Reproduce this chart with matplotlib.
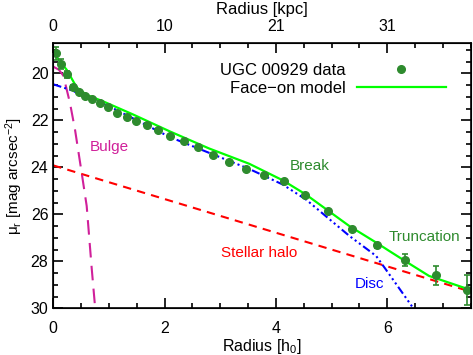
from matplotlib import pyplot as plt
from matplotlib.lines import Line2D
import numpy as np

plt.rcParams['font.family'] = ['Liberation Sans', 'DejaVu Sans']
plt.rcParams['mathtext.fontset'] = 'custom'
plt.rcParams['mathtext.rm'] = 'Liberation Sans'
plt.rcParams['mathtext.it'] = 'Liberation Sans:italic'
plt.rcParams['font.size'] = 10

# observed profile (radius in h0, surface brightness in mag/arcsec^2)
radius = [0.04, 0.14, 0.24, 0.35, 0.46, 0.57, 0.70, 0.84, 0.99, 1.14, 1.32, 1.49, 1.68, 1.88, 2.10,
          2.34, 2.60, 2.87, 3.15, 3.47, 3.79, 4.15, 4.52, 4.93, 5.37, 5.82, 6.32, 6.87, 7.43]
mu = [19.15, 19.60, 20.04, 20.57, 20.80, 20.96, 21.10, 21.25, 21.44, 21.70, 21.86, 22.02, 22.18, 22.43, 22.66,
      22.90, 23.14, 23.46, 23.79, 24.06, 24.34, 24.59, 25.19, 25.86, 26.61, 27.32, 27.94, 28.59, 29.22]
mu_err = [0.27, 0.2, 0.15, 0.06, 0.05, 0.05, 0.05, 0.05, 0.05, 0.05, 0.05, 0.05, 0.05, 0.05, 0.05,
          0.05, 0.05, 0.05, 0.05, 0.05, 0.05, 0.05, 0.05, 0.06, 0.07, 0.12, 0.24, 0.40, 0.62]

# face-on model
model_r = [0.0, 0.12, 0.24, 0.42, 0.60, 0.90, 1.43, 2.09, 2.80, 3.52, 4.12, 4.54, 5.32, 5.80, 6.03, 6.33, 6.75, 7.50]
model_mu = [19.10, 19.50, 19.85, 20.60, 20.92, 21.20, 21.75, 22.47, 23.20, 23.85, 24.55, 25.16, 26.50, 27.20, 27.55, 28.00, 28.62, 29.22]

# components
bulge_r = [0.0, 0.10, 0.18, 0.30, 0.39, 0.51, 0.60, 0.69, 0.76]
bulge_mu = [19.72, 19.85, 20.10, 21.27, 22.40, 24.24, 25.65, 28.30, 30.20]
disc_r = [0.0, 0.30, 1.00, 2.10, 3.52, 4.12, 4.54, 5.32, 5.80, 5.97, 6.50]
disc_mu = [20.47, 20.70, 21.40, 22.72, 24.07, 24.73, 25.37, 26.92, 27.77, 28.33, 30.10]
halo_r = [0.0, 7.5]
halo_mu = [23.92, 29.29]

kpc_pos = [0, 2, 4, 6]
kpc_labels = ['0', '10', '21', '31']

green = '#2E8B2E'

fig = plt.figure(figsize=(4.73, 3.55), dpi=100)
ax = fig.add_axes([0.1127, 0.1315, 0.8824, 0.7482])

ax.plot(halo_r, halo_mu, color='red', lw=1.5, dashes=(4, 3))
ax.plot(bulge_r, bulge_mu, color='#D0209A', lw=1.5, dashes=(7, 4))
ax.plot(disc_r, disc_mu, color='blue', lw=1.5, dashes=(4, 1.5, 1, 1.5, 1, 1.5, 1, 1.5))
ax.plot(model_r, model_mu, color='#00FF00', lw=1.6)
ax.errorbar(radius, mu, yerr=mu_err, fmt='o', color=green, ms=5.5, elinewidth=1.2, capsize=2.2, capthick=1.2)

ax.set_xlim(0, 7.5)
ax.set_ylim(30.0, 18.7)
ax.set_xticks([0, 2, 4, 6])
ax.set_xticks(np.arange(0, 7.6, 0.5), minor=True)
ax.set_yticks([20, 22, 24, 26, 28, 30])
ax.set_yticks(np.arange(19, 30.1, 0.5), minor=True)
ax.tick_params(which='both', direction='in', right=True, top=False, width=1.2, labelsize=11.5)
ax.tick_params(which='major', length=7)
ax.tick_params(which='minor', length=3.5)
ax.tick_params(axis='x', pad=9)
for s in ax.spines.values():
    s.set_linewidth(1.2)

ax.set_xlabel('Radius [h$_0$]', fontsize=11.5, labelpad=1)
ax.set_ylabel('μ$_\\mathrm{r}$ [mag arcsec$^{-2}$]', fontsize=11, labelpad=4)

top = ax.twiny()
top.set_xlim(ax.get_xlim())
top.set_xticks(kpc_pos)
top.set_xticklabels(kpc_labels)
top.set_xticks(np.arange(0, 7.6, 0.5), minor=True)
top.tick_params(which='both', direction='in', labelsize=11.5, width=1.2, pad=6)
top.tick_params(which='major', length=7)
top.tick_params(which='minor', length=3.5)
top.set_xlabel('Radius [kpc]', fontsize=12, labelpad=4)

ax.text(1.0, 23.15, 'Bulge', color='#D0209A', fontsize=11, ha='center', va='center')
ax.text(4.6, 23.95, 'Break', color=green, fontsize=11, ha='center', va='center')
ax.text(3.7, 27.65, 'Stellar halo', color='red', fontsize=11, ha='center', va='center')
ax.text(5.68, 28.95, 'Disc', color='blue', fontsize=11, ha='center', va='center')
ax.text(6.67, 26.95, 'Truncation', color=green, fontsize=11, ha='center', va='center')

handles = [Line2D([], [], marker='o', ls='none', color=green, ms=5.5),
           Line2D([], [], color='#00FF00', lw=1.6)]
ax.legend(handles, ['UGC 00929 data', 'Face\u2212on model'], loc='upper right',
          bbox_to_anchor=(0.94, 0.925), frameon=False, markerfirst=False,
          handlelength=5.3, handletextpad=0.7, labelspacing=0.2, borderpad=0,
          borderaxespad=0, fontsize=12)

fig.savefig('out.png', dpi=100)
